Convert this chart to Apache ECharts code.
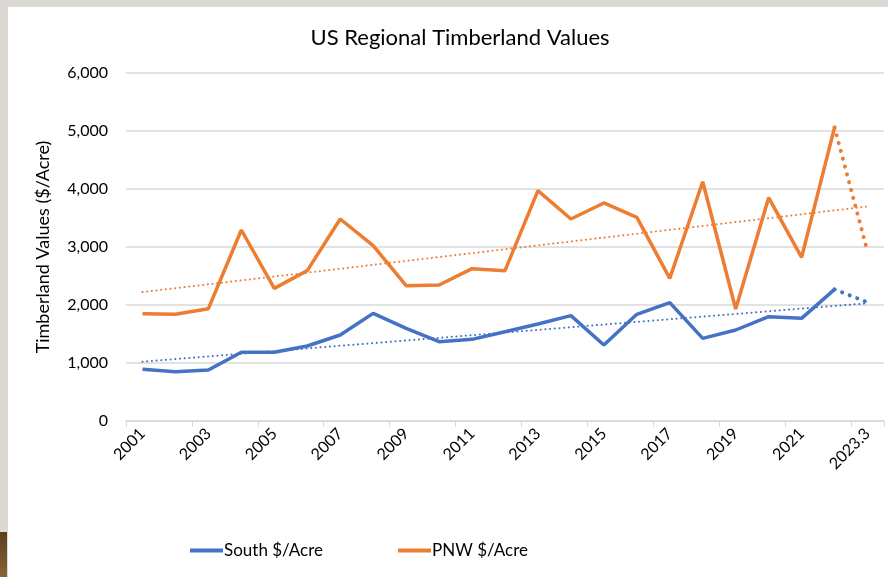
<!DOCTYPE html>
<html>
<head>
<meta charset="utf-8">
<script src="https://cdn.jsdelivr.net/npm/echarts@6/dist/echarts.min.js"></script>
<style>
  html, body { margin: 0; padding: 0; }
  body { width: 888px; height: 577px; background: #dcd9d4; position: relative; overflow: hidden; }
  #main { position: absolute; left: 8px; top: 7px; width: 880px; height: 570px; background: #fff; }
  #wood { position: absolute; left: 0; top: 532px; width: 7px; height: 45px;
          background: linear-gradient(#5a3e1e, #8a6436); }
</style>
</head>
<body>
<div id="wood"></div>
<div id="main"></div>
<script>
const years = ['2001', '2002', '2003', '2004', '2005', '2006', '2007', '2008', '2009', '2010',
  '2011', '2012', '2013', '2014', '2015', '2016', '2017', '2018', '2019', '2020',
  '2021', '2022', '2023.3'];
const south = [891, 850, 879, 1184, 1184, 1293, 1483, 1856, 1598, 1368,
  1408, 1540, 1672, 1816, 1310, 1839, 2040, 1425, 1569, 1799,
  1770, 2270, 2046];
const pnw = [1851, 1839, 1937, 3293, 2287, 2592, 3483, 3023, 2333, 2345,
  2627, 2592, 3971, 3483, 3759, 3511, 2460, 4126, 1931, 3851,
  2822, 5063, 2920];

const BLUE = '#4472C4';
const ORANGE = '#ED7D31';

// linear trendline (least squares), like Excel's
function trend(vals) {
  const n = vals.length;
  let sx = 0, sy = 0, sxx = 0, sxy = 0;
  vals.forEach((v, i) => { sx += i; sy += v; sxx += i * i; sxy += i * v; });
  const b = (n * sxy - sx * sy) / (n * sxx - sx * sx);
  const a = (sy - b * sx) / n;
  return vals.map((v, i) => Math.round(a + b * i));
}

// solid part up to 2022, dotted last step to 2023.3
const last = years.length - 1;
const solid = arr => arr.map((v, i) => i < last ? v : null);
const tail = arr => arr.map((v, i) => i >= last - 1 ? v : null);

const chart = echarts.init(document.getElementById('main'));
const font = 'Lato, "Open Sans", sans-serif';

chart.setOption({
  animation: false,
  textStyle: { fontFamily: font },
  title: {
    text: 'US Regional Timberland Values',
    left: 447,
    textAlign: 'center',
    top: 15,
    textStyle: { fontFamily: font, fontSize: 22, fontWeight: 'normal', color: '#000' }
  },
  legend: {
    data: ['South $/Acre', 'PNW $/Acre'],
    left: 177,
    top: 530,
    itemWidth: 33,
    itemHeight: 4,
    itemGap: 75,
    icon: 'rect',
    textStyle: { fontFamily: font, fontSize: 17, color: '#000', padding: [0, 0, 0, -4] }
  },
  grid: { left: 118, right: 4, top: 66, bottom: 156 },
  xAxis: {
    type: 'category',
    data: years,
    boundaryGap: true,
    axisLine: { lineStyle: { color: '#d9d9d9', width: 1.5 } },
    axisTick: { show: true, length: 6, lineStyle: { color: '#d9d9d9' } },
    axisLabel: { interval: 1, rotate: 45, color: '#000', fontSize: 16, margin: 10, fontFamily: font }
  },
  yAxis: {
    type: 'value',
    min: 0,
    max: 6000,
    interval: 1000,
    name: 'Timberland Values ($/Acre)',
    nameLocation: 'middle',
    nameGap: 74,
    nameTextStyle: { color: '#000', fontSize: 18, fontFamily: font },
    axisLine: { show: false },
    axisTick: { show: false },
    axisLabel: {
      color: '#000', fontSize: 16, margin: 18, fontFamily: font,
      formatter: v => v.toLocaleString('en-US')
    },
    splitLine: { lineStyle: { color: '#d9d9d9', width: 1.5 } }
  },
  series: [
    {
      name: 'South $/Acre', type: 'line', data: solid(south), symbol: 'none',
      itemStyle: { color: BLUE }, lineStyle: { color: BLUE, width: 3.5 }, z: 5
    },
    {
      name: 'PNW $/Acre', type: 'line', data: solid(pnw), symbol: 'none',
      itemStyle: { color: ORANGE }, lineStyle: { color: ORANGE, width: 3.5 }, z: 5
    },
    {
      name: 'South tail', type: 'line', data: tail(south), symbol: 'none',
      lineStyle: { color: BLUE, width: 4, type: [0.1, 8], cap: 'round' }, z: 4
    },
    {
      name: 'PNW tail', type: 'line', data: tail(pnw), symbol: 'none',
      lineStyle: { color: ORANGE, width: 4, type: [0.1, 8], cap: 'round' }, z: 4
    },
    {
      name: 'South trend', type: 'line', data: trend(south), symbol: 'none',
      lineStyle: { color: BLUE, width: 2, type: [0.1, 4.6], cap: 'round' }, z: 3
    },
    {
      name: 'PNW trend', type: 'line', data: trend(pnw), symbol: 'none',
      lineStyle: { color: ORANGE, width: 2, type: [0.1, 4.6], cap: 'round' }, z: 3
    }
  ]
});
</script>
</body>
</html>
